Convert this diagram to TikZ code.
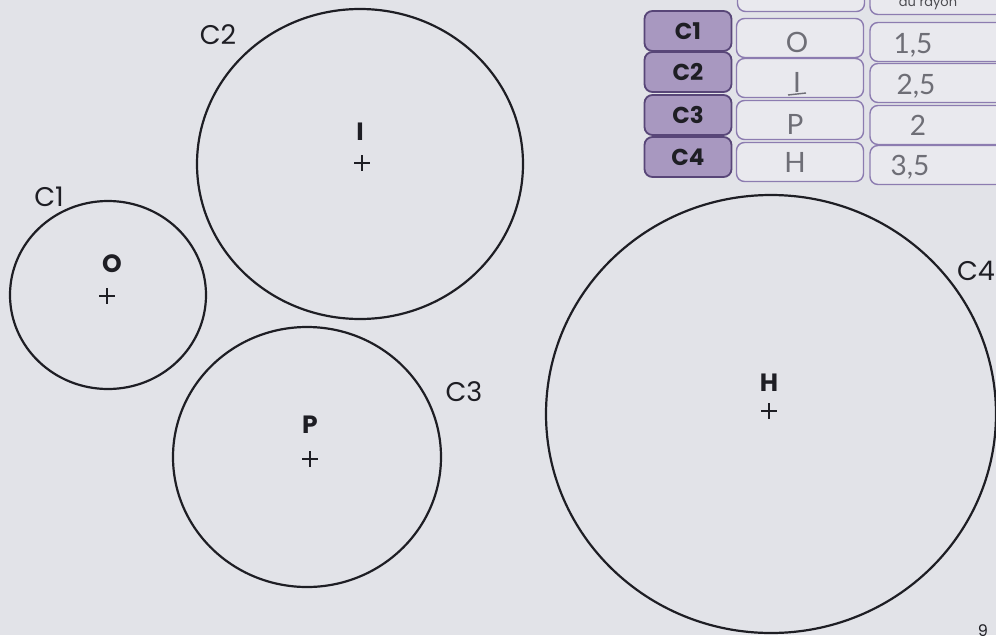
\documentclass[tikz,border=0pt]{standalone}
\usepackage{fontspec}
\setmainfont{Poppins}
\newfontfamily\handfont{Lato}
\definecolor{paper}{RGB}{226,227,232}
\definecolor{ink}{RGB}{30,30,36}
\definecolor{pfill}{RGB}{168,152,192}
\definecolor{pdark}{RGB}{88,70,120}
\definecolor{plite}{RGB}{140,124,176}
\definecolor{cellfill}{RGB}{233,233,238}
\definecolor{pencil}{RGB}{110,110,118}
\tikzset{
  circ/.style={draw=ink,line width=2.2pt},
  clabel/.style={font=\fontsize{27}{32}\selectfont,text=ink,inner sep=0pt},
  ptlabel/.style={font=\bfseries\fontsize{25}{30}\selectfont,text=ink,inner sep=0pt},
  hdbox/.style={draw=pdark,fill=pfill,line width=1.8pt,rounded corners=8pt,minimum width=87pt,minimum height=40pt,inner sep=0pt,font=\bfseries\fontsize{23}{27}\selectfont,text=ink},
  cellbox/.style={draw=plite,fill=cellfill,line width=1.4pt,rounded corners=8pt,minimum width=127pt,minimum height=39pt,inner sep=0pt},
  hand/.style={font=\handfont\fontsize{28}{32}\selectfont,text=pencil,inner sep=0pt},
  cross/.style={draw=ink,line width=1.1pt}
}
\newcommand{\mycross}[1]{\draw[cross] ($(#1)+(-8,0)$) -- ($(#1)+(8,0)$) ($(#1)+(0,-8)$) -- ($(#1)+(0,8)$);}
\usetikzlibrary{calc}
\begin{document}
\begin{tikzpicture}[x=1pt,y=-1pt]
\useasboundingbox (0,0) rectangle (996,635);
\clip (0,0) rectangle (996,635);
\fill[paper] (0,0) rectangle (996,635);

% circles
\draw[circ] (108,295) ellipse [x radius=98, y radius=94];
\draw[circ] (360,164) ellipse [x radius=163, y radius=155];
\draw[circ] (307,457) ellipse [x radius=134, y radius=130];
\draw[circ] (771,414) ellipse [x radius=225, y radius=219];

% centres
\coordinate (cO) at (107,296);
\coordinate (cI) at (362,163);
\coordinate (cP) at (310,459);
\coordinate (cH) at (769,411);
\mycross{cO}
\mycross{cI}
\mycross{cP}
\mycross{cH}
\node[ptlabel] (lO) at (112,264) {O};
\node[ptlabel] (lI) at (360,132) {I};
\node[ptlabel] (lP) at (310,425) {P};
\node[ptlabel] (lH) at (769,383) {H};

% circle names
\node[clabel] (n1) at (49,197) {C1};
\node[clabel] (n2) at (218,35) {C2};
\node[clabel] (n3) at (464,392) {C3};
\node[clabel] (n4) at (976,271) {C4};

% table top (partial header row)
\node[cellbox] (h2) at (801,-8) {};
\node[cellbox,minimum width=140pt] (h3) at (940,-5) {};
\node[font=\fontsize{13}{15}\selectfont,text=ink!80,inner sep=0pt] (h3t) at (928,3) {du rayon};

% table rows
\node[hdbox] (r1) at (688,31) {C1};
\node[hdbox] (r2) at (688,72) {C2};
\node[hdbox] (r3) at (688,115) {C3};
\node[hdbox] (r4) at (688,157) {C4};

\node[cellbox] (m1) at (800,38) {};
\node[cellbox] (m2) at (800,78) {};
\node[cellbox] (m3) at (800,120) {};
\node[cellbox] (m4) at (800,162) {};

\node[cellbox,minimum width=140pt] (v1) at (940,42) {};
\node[cellbox,minimum width=140pt] (v2) at (940,83) {};
\node[cellbox,minimum width=140pt] (v3) at (940,125) {};
\node[cellbox,minimum width=140pt] (v4) at (940,165) {};

\node[hand] (t1) at (797,42) {O};
\node[hand] (t2) at (797,82) {I};
\draw[pencil,line width=1.4pt] (788,95) -- (806,93);
\node[hand] (t3) at (795,124) {P};
\node[hand] (t4) at (795,162) {H};
\node[hand] (u1) at (913,45) {1,5};
\node[hand] (u2) at (916,86) {2,5};
\node[hand] (u3) at (918,125) {2};
\node[hand] (u4) at (910,167) {3,5};

% page number
\node[font=\fontsize{16}{18}\selectfont,text=ink,inner sep=0pt] (pg) at (983,631) {9};
\end{tikzpicture}
\end{document}
